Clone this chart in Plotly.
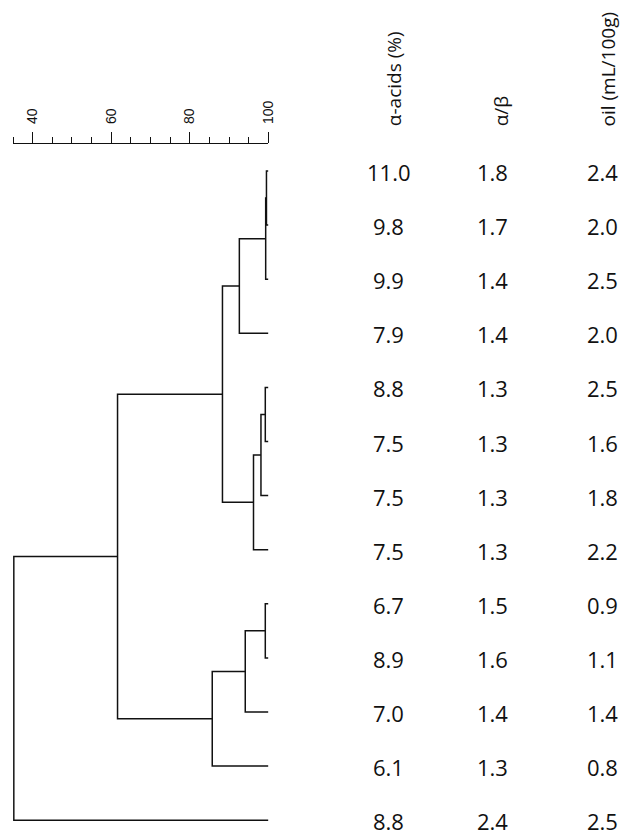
import plotly.graph_objects as go

# ---- data ----
alpha_acids = [11.0, 9.8, 9.9, 7.9, 8.8, 7.5, 7.5, 7.5, 6.7, 8.9, 7.0, 6.1, 8.8]
alpha_beta = [1.8, 1.7, 1.4, 1.4, 1.3, 1.3, 1.3, 1.3, 1.5, 1.6, 1.4, 1.3, 2.4]
oil = [2.4, 2.0, 2.5, 2.0, 2.5, 1.6, 1.8, 2.2, 0.9, 1.1, 1.4, 0.8, 2.5]
headers = ["α-acids (%)", "α/β", "oil (mL/100g)"]
# merges: (left node, right node, similarity); leaves 0..12, new nodes 13..
merges = [
    (0, 1, 99.5),    # 13
    (13, 2, 99.3),   # 14
    (14, 3, 92.6),   # 15
    (4, 5, 99.2),    # 16
    (16, 6, 98.1),   # 17
    (17, 7, 96.2),   # 18
    (15, 18, 88.3),  # 19
    (8, 9, 99.2),    # 20
    (20, 10, 94.1),  # 21
    (21, 11, 85.7),  # 22
    (19, 22, 61.6),  # 23
    (23, 12, 35.2),  # 24
]
major_ticks = [40, 60, 80, 100]

# ---- layout constants (pixels as seen in the 623-wide picture) ----
PW, H = 623, 836
W = 632                 # css width of the viewport
n = len(alpha_acids)
row0_px, row_step = 171, 54.1
col_px = [388, 492, 602]
head_px = [393, 500, 607]

# ---- dendrogram geometry ----
pos = {i: (100.0, float(i)) for i in range(n)}
xs, ys = [], []
nid = n
for a, b, s in merges:
    xa, ya = pos[a]
    xb, yb = pos[b]
    xs += [xa, s, s, xb, None]
    ys += [ya, ya, yb, yb, None]
    pos[nid] = (s, (ya + yb) / 2)
    nid += 1

fig = go.Figure()
fig.add_trace(go.Scatter(x=xs, y=ys, mode="lines",
                         line=dict(color="#111", width=1.5),
                         hoverinfo="skip", showlegend=False))

# numbers
cols = [alpha_acids, alpha_beta, oil]
for ci, vals in enumerate(cols):
    for ri, v in enumerate(vals):
        fig.add_annotation(x=col_px[ci] / PW, xref="paper", y=ri, yref="y",
                           text=f"{v:.1f}", showarrow=False, yshift=-1,
                           font=dict(family="Open Sans", size=22, color="#111"),
                           xanchor="center", yanchor="middle")
# headers
for ci, h in enumerate(headers):
    fig.add_annotation(x=head_px[ci] / PW, xref="paper",
                       y=1 - 128 / H, yref="paper",
                       text=h, showarrow=False, textangle=-90,
                       font=dict(family="Open Sans", size=19, color="#111"),
                       xanchor="center", yanchor="bottom")

y_top = -row0_px / row_step
y_bot = (H - row0_px) / row_step
fig.update_layout(
    width=W, height=H, margin=dict(l=0, r=0, t=0, b=0),
    paper_bgcolor="white", plot_bgcolor="white",
    xaxis=dict(domain=[13 / PW, 268 / PW], range=[35, 100], side="top",
               anchor="free", position=1 - 143 / H,
               showline=True, linecolor="#111", linewidth=1.2,
               ticks="outside", ticklen=11, tickwidth=1.2, tickcolor="#111",
               tickvals=major_ticks, tickangle=-90, ticklabelstandoff=5,
               tickfont=dict(family="Liberation Sans", size=14, color="#111"),
               minor=dict(ticks="outside", ticklen=6, tickwidth=1.2,
                          tickcolor="#111", tick0=35, dtick=5),
               showgrid=False, zeroline=False),
    yaxis=dict(domain=[0, 1], range=[y_bot, y_top], visible=False),
)
fig.write_html("out.html", config={"displayModeBar": False},
               post_script="document.body.style.margin='0';document.body.style.overflow='hidden';")
